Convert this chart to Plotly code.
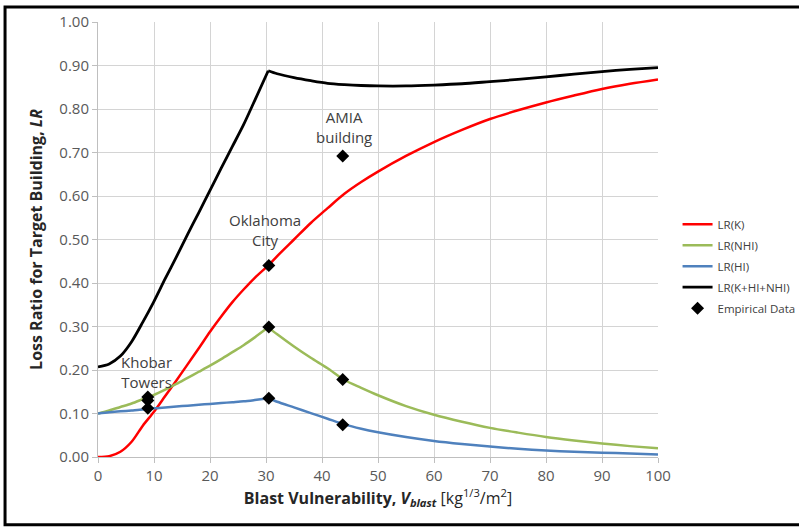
import plotly.graph_objects as go

# ---- data ----
v_blast = [0, 2, 4, 6, 8, 10, 12, 14, 16, 18, 20, 22, 24, 26, 28, 30.4,
           32, 35, 38, 41, 44, 47, 50, 55, 60, 65, 70, 75, 80, 85, 90, 95, 100]
PEAK = 15  # index of the kink (v_blast = 30.4)

lr_k = [0.000, 0.002, 0.012, 0.035, 0.072, 0.104, 0.140, 0.176, 0.213, 0.250,
        0.288, 0.323, 0.356, 0.385, 0.412, 0.440,
        0.462, 0.500, 0.538, 0.572, 0.605, 0.632, 0.656, 0.692, 0.724, 0.752,
        0.777, 0.797, 0.815, 0.831, 0.846, 0.858, 0.868]

lr_nhi = [0.100, 0.107, 0.115, 0.123, 0.133, 0.143, 0.155, 0.168, 0.182, 0.196,
          0.210, 0.225, 0.241, 0.257, 0.275, 0.298,
          0.282, 0.254, 0.228, 0.204, 0.177, 0.159, 0.142, 0.117, 0.097, 0.081,
          0.067, 0.056, 0.046, 0.038, 0.031, 0.025, 0.020]

lr_hi = [0.100, 0.103, 0.105, 0.107, 0.109, 0.112, 0.114, 0.116, 0.118, 0.120,
         0.122, 0.124, 0.126, 0.128, 0.131, 0.135,
         0.127, 0.114, 0.101, 0.088, 0.075, 0.065, 0.057, 0.046, 0.037, 0.030,
         0.024, 0.019, 0.015, 0.012, 0.010, 0.008, 0.006]

lr_total = [0.207, 0.214, 0.232, 0.265, 0.310, 0.358, 0.410, 0.460, 0.512, 0.562,
            0.613, 0.664, 0.714, 0.764, 0.820, 0.888,
            0.881, 0.872, 0.865, 0.859, 0.856, 0.854, 0.853, 0.853, 0.855, 0.858,
            0.863, 0.868, 0.874, 0.880, 0.886, 0.891, 0.895]

emp_x = [8.9, 8.9, 8.9, 30.5, 30.5, 30.5, 43.7, 43.7, 43.7]
emp_y = [0.138, 0.130, 0.112, 0.440, 0.299, 0.135, 0.692, 0.178, 0.074]

event_labels = ["Khobar<br>Towers", "Oklahoma<br>City", "AMIA<br>building"]
event_label_x = [8.7, 29.8, 43.9]
event_label_y = [0.195, 0.523, 0.759]

x_ticks = list(range(0, 101, 10))
y_ticks = [i / 10 for i in range(0, 11)]

FONT = "Open Sans"
TXT = "#404040"
GRID = "#d4d4d4"

fig = go.Figure()
series = [
    ("LR(K)", lr_k, "#ff0000", 2.5),
    ("LR(NHI)", lr_nhi, "#9bbb59", 2.5),
    ("LR(HI)", lr_hi, "#4f81bd", 2.5),
    ("LR(K+HI+NHI)", lr_total, "#000000", 2.8),
]
for i, (name, ys, col, w) in enumerate(series):
    # rising branch and falling branch drawn as smooth curves meeting at the kink
    fig.add_trace(go.Scatter(x=v_blast[:PEAK + 1], y=ys[:PEAK + 1], mode="lines",
                             name=name, legendgroup=f"g{i}",
                             line=dict(color=col, width=w, shape="spline", smoothing=0.8)))
    fig.add_trace(go.Scatter(x=v_blast[PEAK:], y=ys[PEAK:], mode="lines",
                             name=name, legendgroup=f"g{i}", showlegend=False,
                             line=dict(color=col, width=w, shape="spline", smoothing=0.8)))
fig.add_trace(go.Scatter(x=emp_x, y=emp_y, mode="markers", name="Empirical Data",
                         legendgroup="g5",
                         marker=dict(symbol="diamond", size=10, color="black")))

for t, xx, yy in zip(event_labels, event_label_x, event_label_y):
    fig.add_annotation(x=xx, y=yy, text=t, showarrow=False, xanchor="center",
                       yanchor="middle", font=dict(family=FONT, size=15, color=TXT))

fig.add_shape(type="rect", xref="paper", yref="paper",
              x0=-0.166, x1=1.26, y0=-0.156, y1=1.0345,
              line=dict(color="black", width=3), layer="above")

fig.update_xaxes(range=[0, 100], tickvals=x_ticks, showgrid=True, gridcolor=GRID,
                 gridwidth=1, showline=True, linecolor="#bfbfbf", linewidth=1,
                 ticks="outside", ticklen=5, tickcolor="#bfbfbf", zeroline=False,
                 tickfont=dict(family=FONT, size=15, color="#595959"),
                 title=dict(text="<b>Blast Vulnerability, <i>V<sub>blast</sub></i></b> [kg<sup>1/3</sup>/m<sup>2</sup>]",
                            font=dict(family=FONT, size=16, color="#262626"), standoff=6))
fig.update_yaxes(range=[0, 1.0], tickvals=y_ticks, tickformat=".2f", showgrid=True,
                 gridcolor=GRID, gridwidth=1, showline=True, linecolor="#bfbfbf",
                 linewidth=1, ticks="outside", ticklen=5, tickcolor="#bfbfbf",
                 zeroline=False,
                 tickfont=dict(family=FONT, size=15, color="#595959"),
                 title=dict(text="<b>Loss Ratio for Target Building, <i>LR</i></b>",
                            font=dict(family=FONT, size=16, color="#262626"), standoff=12))

fig.update_layout(
    width=799, height=527,
    margin=dict(l=98, r=141, t=22, b=70, pad=0, autoexpand=False),
    paper_bgcolor="white", plot_bgcolor="white",
    showlegend=True,
    legend=dict(xref="container", yref="container", x=0.848, xanchor="left",
                y=0.495, yanchor="middle",
                font=dict(family=FONT, size=11.5, color=TXT),
                tracegroupgap=2, traceorder="grouped", bgcolor="rgba(0,0,0,0)"),
)

fig.write_html("out.html")
